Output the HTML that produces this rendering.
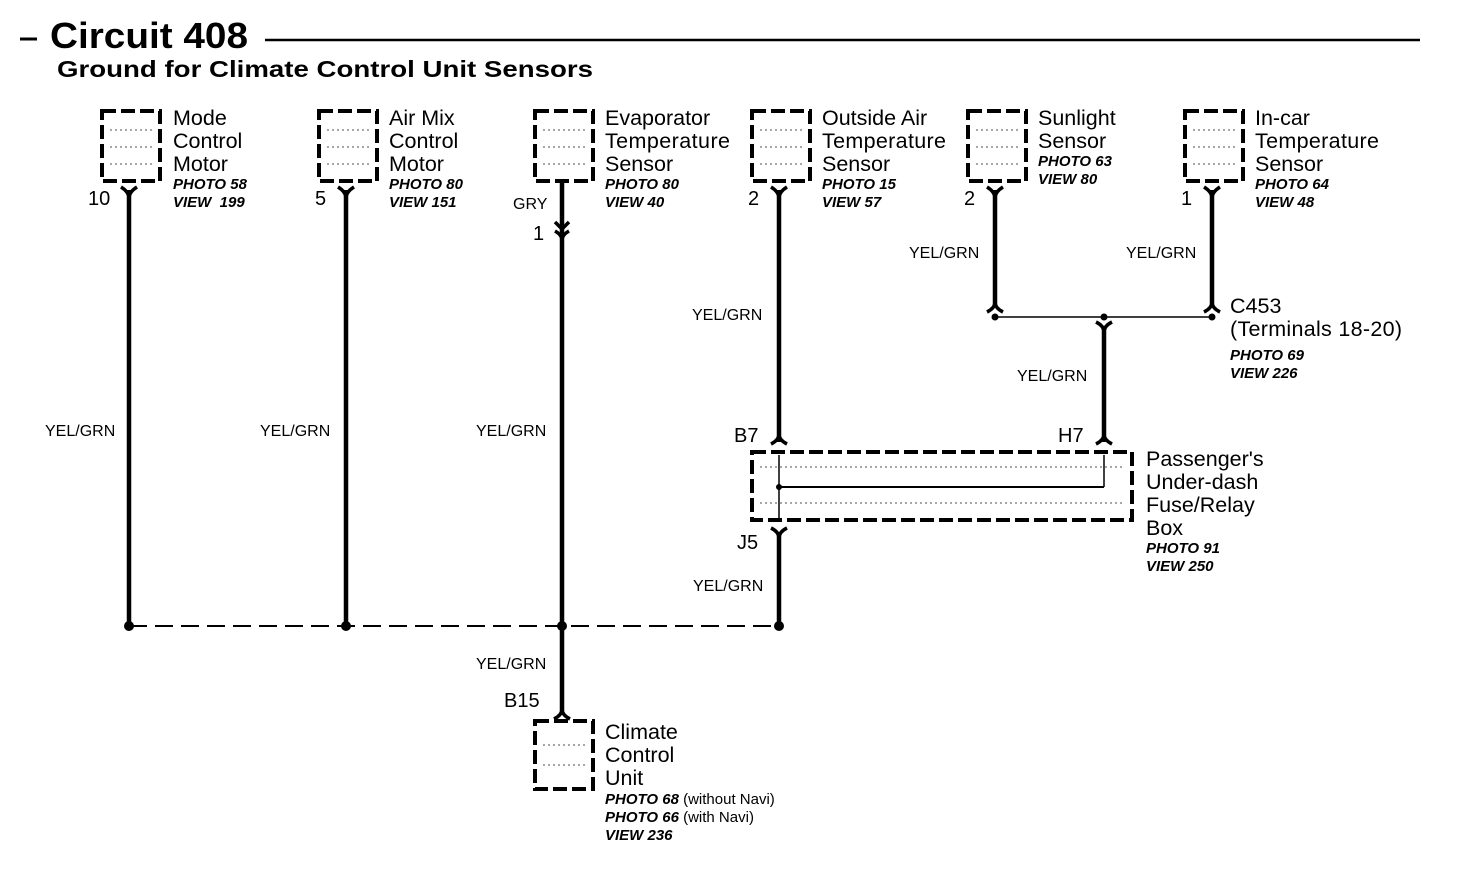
<!DOCTYPE html>
<html><head><meta charset="utf-8"><style>
html,body{margin:0;padding:0;background:#fff;}
svg{display:block;font-family:"Liberation Sans",Arial,sans-serif;}
.n{font-size:21.5px;}
.i{font-size:15px;font-style:italic;font-weight:bold;}
.w{font-size:16px;}
.p{font-size:20px;}
.box{fill:none;stroke:#000;stroke-width:4;stroke-dasharray:14 5;}
.tex{stroke:#888;stroke-width:1.5;stroke-dasharray:2 3;fill:none;}
.wire{stroke:#000;stroke-width:4.5;fill:none;}
.c{stroke:#000;stroke-width:3.5;fill:none;}
</style></head><body>
<svg width="1472" height="878" viewBox="0 0 1472 878" xmlns="http://www.w3.org/2000/svg">
<rect width="1472" height="878" fill="#fff"/>
<line x1="20" y1="39" x2="37" y2="39" stroke="#000" stroke-width="3"/>
<text x="50" y="48" font-size="36" font-weight="bold" textLength="198" lengthAdjust="spacingAndGlyphs">Circuit 408</text>
<line x1="265" y1="40" x2="1420" y2="40" stroke="#000" stroke-width="2.5"/>
<text x="57" y="77" font-size="23" font-weight="bold" textLength="536" lengthAdjust="spacingAndGlyphs">Ground for Climate Control Unit Sensors</text>

<g class="tex">
<path d="M110,130 H152 M110,147 H152 M110,164 H152"/>
<path d="M327,130 H369 M327,147 H369 M327,164 H369"/>
<path d="M543,130 H585 M543,147 H585 M543,164 H585"/>
<path d="M760,130 H802 M760,147 H802 M760,164 H802"/>
<path d="M976,130 H1018 M976,147 H1018 M976,164 H1018"/>
<path d="M1193,130 H1235 M1193,147 H1235 M1193,164 H1235"/>
<path d="M543,745 H585 M543,765 H585"/>
<path d="M760,467 H1124 M760,503 H1124"/>
</g>
<rect class="box" x="102" y="111" width="58" height="70"/>
<rect class="box" x="319" y="111" width="58" height="70"/>
<rect class="box" x="535" y="111" width="58" height="70"/>
<rect class="box" x="752" y="111" width="58" height="70"/>
<rect class="box" x="968" y="111" width="58" height="70"/>
<rect class="box" x="1185" y="111" width="58" height="70"/>
<rect class="box" x="535" y="721" width="58" height="68"/>
<rect class="box" x="752" y="452" width="380" height="68"/>
<line x1="779" y1="487" x2="1104" y2="487" stroke="#000" stroke-width="2"/>
<line x1="779" y1="455" x2="779" y2="518" stroke="#000" stroke-width="1.5"/>
<line x1="1104" y1="455" x2="1104" y2="487" stroke="#000" stroke-width="1.5"/>
<circle cx="779" cy="487" r="3"/>

<g class="n">
<text x="173" y="125">Mode</text><text x="173" y="148">Control</text><text x="173" y="171">Motor</text>
<text x="389" y="125">Air Mix</text><text x="389" y="148">Control</text><text x="389" y="171">Motor</text>
<text x="605" y="125">Evaporator</text><text x="605" y="148" textLength="125">Temperature</text><text x="605" y="171">Sensor</text>
<text x="822" y="125">Outside Air</text><text x="822" y="148" textLength="124">Temperature</text><text x="822" y="171">Sensor</text>
<text x="1038" y="125">Sunlight</text><text x="1038" y="148">Sensor</text>
<text x="1255" y="125">In-car</text><text x="1255" y="148" textLength="124">Temperature</text><text x="1255" y="171">Sensor</text>
<text x="1230" y="313">C453</text><text x="1230" y="336" textLength="172">(Terminals 18-20)</text>
<text x="1146" y="466">Passenger's</text><text x="1146" y="489">Under-dash</text><text x="1146" y="512">Fuse/Relay</text><text x="1146" y="535">Box</text>
<text x="605" y="739">Climate</text><text x="605" y="762">Control</text><text x="605" y="785">Unit</text>
</g>
<g class="i">
<text x="173" y="189">PHOTO 58</text><text x="173" y="207">VIEW&#160;&#160;199</text>
<text x="389" y="189">PHOTO 80</text><text x="389" y="207">VIEW 151</text>
<text x="605" y="189">PHOTO 80</text><text x="605" y="207">VIEW 40</text>
<text x="822" y="189">PHOTO 15</text><text x="822" y="207">VIEW 57</text>
<text x="1038" y="166">PHOTO 63</text><text x="1038" y="184">VIEW 80</text>
<text x="1255" y="189">PHOTO 64</text><text x="1255" y="207">VIEW 48</text>
<text x="1230" y="360">PHOTO 69</text><text x="1230" y="378">VIEW 226</text>
<text x="1146" y="553">PHOTO 91</text><text x="1146" y="571">VIEW 250</text>
<text x="605" y="804">PHOTO 68 <tspan font-style="normal" font-weight="normal">(without Navi)</tspan></text>
<text x="605" y="822">PHOTO 66 <tspan font-style="normal" font-weight="normal">(with Navi)</tspan></text>
<text x="605" y="840">VIEW 236</text>
</g>
<g class="p">
<text x="88" y="205">10</text><text x="315" y="205">5</text>
<text x="748" y="205">2</text><text x="964" y="205">2</text><text x="1181" y="205">1</text>
<text x="533" y="240">1</text>
<text x="734" y="442">B7</text><text x="1058" y="442">H7</text>
<text x="737" y="549">J5</text><text x="504" y="707">B15</text>
</g>
<text x="513" y="209" font-size="16">GRY</text>
<g class="w">
<text x="45" y="436">YEL/GRN</text><text x="260" y="436">YEL/GRN</text><text x="476" y="436">YEL/GRN</text>
<text x="692" y="320">YEL/GRN</text>
<text x="909" y="258">YEL/GRN</text><text x="1126" y="258">YEL/GRN</text>
<text x="1017" y="381">YEL/GRN</text>
<text x="693" y="591">YEL/GRN</text><text x="476" y="669">YEL/GRN</text>
</g>

<g class="wire">
<line x1="129" y1="190" x2="129" y2="626"/>
<line x1="346" y1="190" x2="346" y2="626"/>
<line x1="562" y1="182" x2="562" y2="715"/>
<line x1="779" y1="190" x2="779" y2="442"/>
<line x1="779" y1="532" x2="779" y2="626"/>
<line x1="995" y1="190" x2="995" y2="306"/>
<line x1="1212" y1="190" x2="1212" y2="306"/>
<line x1="1104" y1="326" x2="1104" y2="442"/>
</g>
<g class="c">
<path d="M121,187 Q129,192 129,198 Q129,192 137,187"/>
<path d="M338,187 Q346,192 346,198 Q346,192 354,187"/>
<path d="M771,187 Q779,192 779,198 Q779,192 787,187"/>
<path d="M987,187 Q995,192 995,198 Q995,192 1003,187"/>
<path d="M1204,187 Q1212,192 1212,198 Q1212,192 1220,187"/>
<path d="M555,222 L562,229 L569,222"/>
<path d="M555,231 Q562,235 562,240 Q562,235 569,231"/>
<path d="M771,444 Q779,440 779,434 Q779,440 787,444"/>
<path d="M1096,444 Q1104,440 1104,434 Q1104,440 1112,444"/>
<path d="M771,528 Q779,532 779,538 Q779,532 787,528"/>
<path d="M554,719 Q562,715 562,709 Q562,715 570,719"/>
<path d="M987,312 Q995,308 995,302 Q995,308 1003,312"/>
<path d="M1204,312 Q1212,308 1212,302 Q1212,308 1220,312"/>
<path d="M1096,322 Q1104,326 1104,332 Q1104,326 1112,322"/>
</g>
<line x1="995" y1="317" x2="1210" y2="317" stroke="#000" stroke-width="1.5"/>
<circle cx="995" cy="317" r="3.5"/><circle cx="1104" cy="317" r="3.5"/><circle cx="1212" cy="317" r="3.5"/>

<line x1="129" y1="626" x2="779" y2="626" stroke="#000" stroke-width="2" stroke-dasharray="18 8"/>
<circle cx="129" cy="626" r="5"/><circle cx="346" cy="626" r="5"/><circle cx="562" cy="626" r="5"/><circle cx="779" cy="626" r="5"/>
</svg>
</body></html>
